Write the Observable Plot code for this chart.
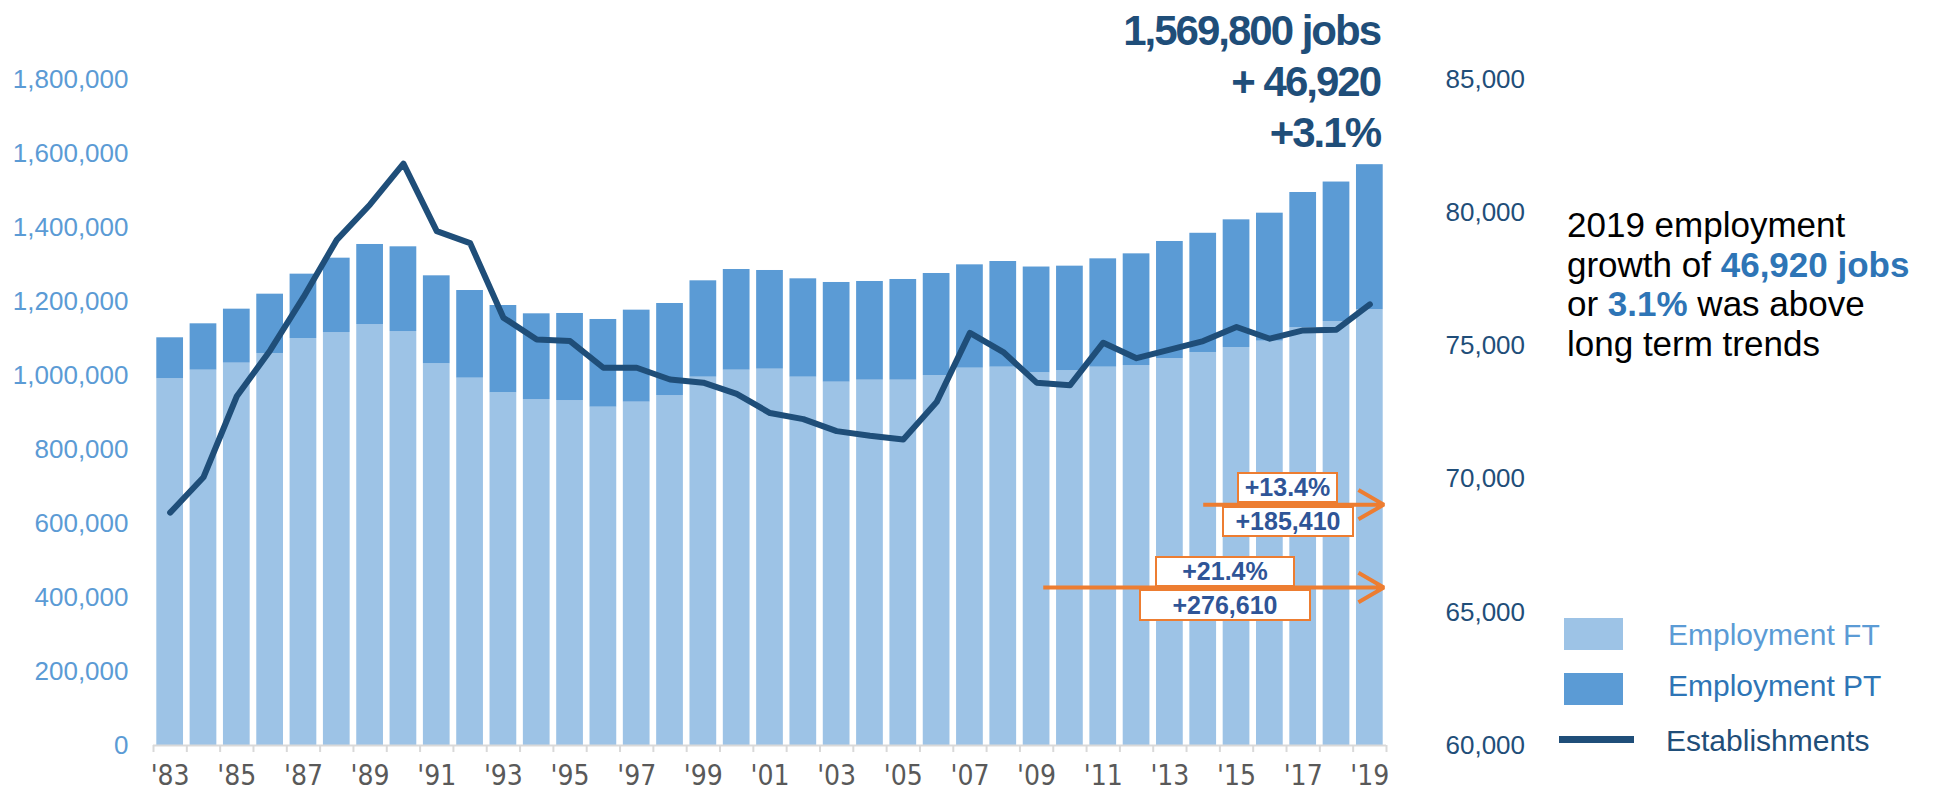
<!DOCTYPE html>
<html><head><meta charset="utf-8">
<script src="https://cdn.jsdelivr.net/npm/d3@7"></script>
<script src="https://cdn.jsdelivr.net/npm/@observablehq/plot@0.6"></script>
<style>
body{margin:0;background:#fff;}
#wrap{position:relative;width:1936px;height:791px;overflow:hidden;font-family:"Liberation Sans",Arial,sans-serif;}
#wrap svg{position:absolute;left:0;top:0;}
.abs{position:absolute;white-space:nowrap;}
.big{font-weight:bold;font-size:42px;line-height:51px;letter-spacing:-2px;color:#1F4E79;text-align:right;right:556px;top:5px;}
.note{left:1567px;top:205px;font-size:35px;line-height:39.5px;color:#000;}
.note b{color:#2E75B6;}
.box{border:2px solid #ED7D31;background:#fff;color:#2F5597;font-weight:bold;font-size:25px;text-align:center;box-sizing:border-box;}
.sw{position:absolute;}
.lg{position:absolute;font-size:30px;line-height:30px;white-space:nowrap;}
</style></head>
<body><div id="wrap"></div>
<script>
const years = [1983,1984,1985,1986,1987,1988,1989,1990,1991,1992,1993,1994,1995,1996,1997,1998,1999,2000,2001,2002,2003,2004,2005,2006,2007,2008,2009,2010,2011,2012,2013,2014,2015,2016,2017,2018,2019];
const employmentFT = [991000,1014400,1033400,1059500,1100000,1116200,1137800,1118900,1031500,992800,953200,935100,932400,914400,928000,945900,995500,1014400,1017100,995500,982000,987400,987400,1000000,1019800,1022500,1007200,1013500,1022500,1027000,1045900,1062200,1075700,1092800,1128800,1146000,1177500];
const employmentPT = [110900,125300,145900,160300,173900,200900,216300,228900,237900,236900,236000,231600,235200,237000,248600,248700,260400,272100,266700,265800,269400,266700,272100,275700,279300,285600,285990,282000,292800,301800,316300,322190,345000,345900,365800,376880,392300];
const establishments = [68740,70070,73110,74830,76830,78980,80310,81840,79310,78860,76060,75240,75180,74180,74180,73740,73620,73200,72480,72250,71800,71630,71490,72890,75490,74770,73620,73520,75120,74540,74860,75180,75710,75270,75580,75610,76560];
const leftTicks = [0,200000,400000,600000,800000,1000000,1200000,1400000,1600000,1800000];
const rightTicks = [60000,65000,70000,75000,80000,85000];
const labelYears = [1983,1985,1987,1989,1991,1993,1995,1997,1999,2001,2003,2005,2007,2009,2011,2013,2015,2017,2019];
const arrowFrom = [2014, 2009.2];
const arrowLevel = [651000, 427000];

const estMin = 60000, estMax = 85000, yMax = 1800000;
const toY = v => (v - estMin) / (estMax - estMin) * yMax;
const data = years.map((year, i) => ({year, ft: employmentFT[i], pt: employmentPT[i], est: establishments[i]}));
const boundaries = [years[0] - 0.5, ...years.map(y => y + 0.5)];
const arrows = arrowFrom.map((from, i) => ({from, to: years[years.length - 1] + 0.42, level: arrowLevel[i]}));
const fmt = d3.format(",");

const chart = Plot.plot({
  width: 1936, height: 791,
  marginLeft: 153, marginRight: 550, marginTop: 79, marginBottom: 46,
  x: {type: "linear", domain: [years[0] - 0.5, years[years.length - 1] + 0.5]},
  y: {domain: [0, yMax]},
  style: {fontFamily: "'Liberation Sans', Arial, sans-serif", fontSize: "26px", background: "#fff", overflow: "visible"},
  marks: [
    Plot.rect(data, {x1: d => d.year - 0.5, x2: d => d.year + 0.5, y1: 0, y2: "ft", fill: "#9DC3E6", insetLeft: 3.3, insetRight: 3.3}),
    Plot.rect(data, {x1: d => d.year - 0.5, x2: d => d.year + 0.5, y1: "ft", y2: d => d.ft + d.pt, fill: "#5B9BD5", insetLeft: 3.3, insetRight: 3.3}),
    Plot.ruleY([0], {stroke: "#D9D9D9", strokeWidth: 2}),
    Plot.axisX(boundaries, {tickSize: 7, stroke: "#D9D9D9", strokeWidth: 2, tickFormat: () => "", label: null}),
    Plot.axisX(labelYears, {tickSize: 0, tickPadding: 20, tickFormat: d => "'" + String(d).slice(2), color: "#595959", fontSize: 28, fontFamily: "'Liberation Sans Narrow', 'Arial Narrow', 'DejaVu Sans Condensed', sans-serif", label: null}),
    Plot.axisY(leftTicks, {anchor: "left", tickSize: 0, tickPadding: 25, tickFormat: fmt, color: "#5B9BD5", fontSize: 26, label: null}),
    Plot.axisY(rightTicks.map(toY), {anchor: "right", tickSize: 0, tickPadding: 59, tickFormat: v => fmt(Math.round(v / yMax * (estMax - estMin) + estMin)), color: "#1F4E79", fontSize: 26, label: null}),
    Plot.line(data, {x: "year", y: d => toY(d.est), stroke: "#1F4E79", strokeWidth: 6, strokeLinecap: "round", strokeLinejoin: "round"}),
    Plot.arrow(arrows, {x1: "from", x2: "to", y1: "level", y2: "level", stroke: "#ED7D31", strokeWidth: 4, headLength: 11, strokeLinecap: "butt"})
  ]
});
const wrap = document.getElementById("wrap");
wrap.appendChild(chart);

const html = `
<div class="abs big">1,569,800 jobs<br>+ 46,920<br>+3.1%</div>
<div class="abs note">2019 employment<br>growth of <b>46,920 jobs</b><br>or <b>3.1%</b> was above<br>long term trends</div>
<div class="abs box" style="left:1237px;top:472px;width:101px;height:31px;line-height:27px;">+13.4%</div>
<div class="abs box" style="left:1222px;top:506px;width:132px;height:31px;line-height:27px;">+185,410</div>
<div class="abs box" style="left:1155px;top:556px;width:140px;height:31px;line-height:27px;">+21.4%</div>
<div class="abs box" style="left:1139px;top:589px;width:172px;height:32px;line-height:28px;">+276,610</div>
<div class="sw" style="left:1564px;top:618px;width:59px;height:32px;background:#9DC3E6;"></div>
<div class="sw" style="left:1564px;top:673px;width:59px;height:32px;background:#5B9BD5;"></div>
<div class="sw" style="left:1559px;top:736px;width:75px;height:7px;background:#1F4E79;"></div>
<div class="lg" style="left:1668px;top:620px;color:#5B9BD5;">Employment FT</div>
<div class="lg" style="left:1668px;top:671px;color:#2E75B6;">Employment PT</div>
<div class="lg" style="left:1666px;top:726px;color:#1F4E79;">Establishments</div>
`;
wrap.insertAdjacentHTML("beforeend", html);
</script>
</body></html>
